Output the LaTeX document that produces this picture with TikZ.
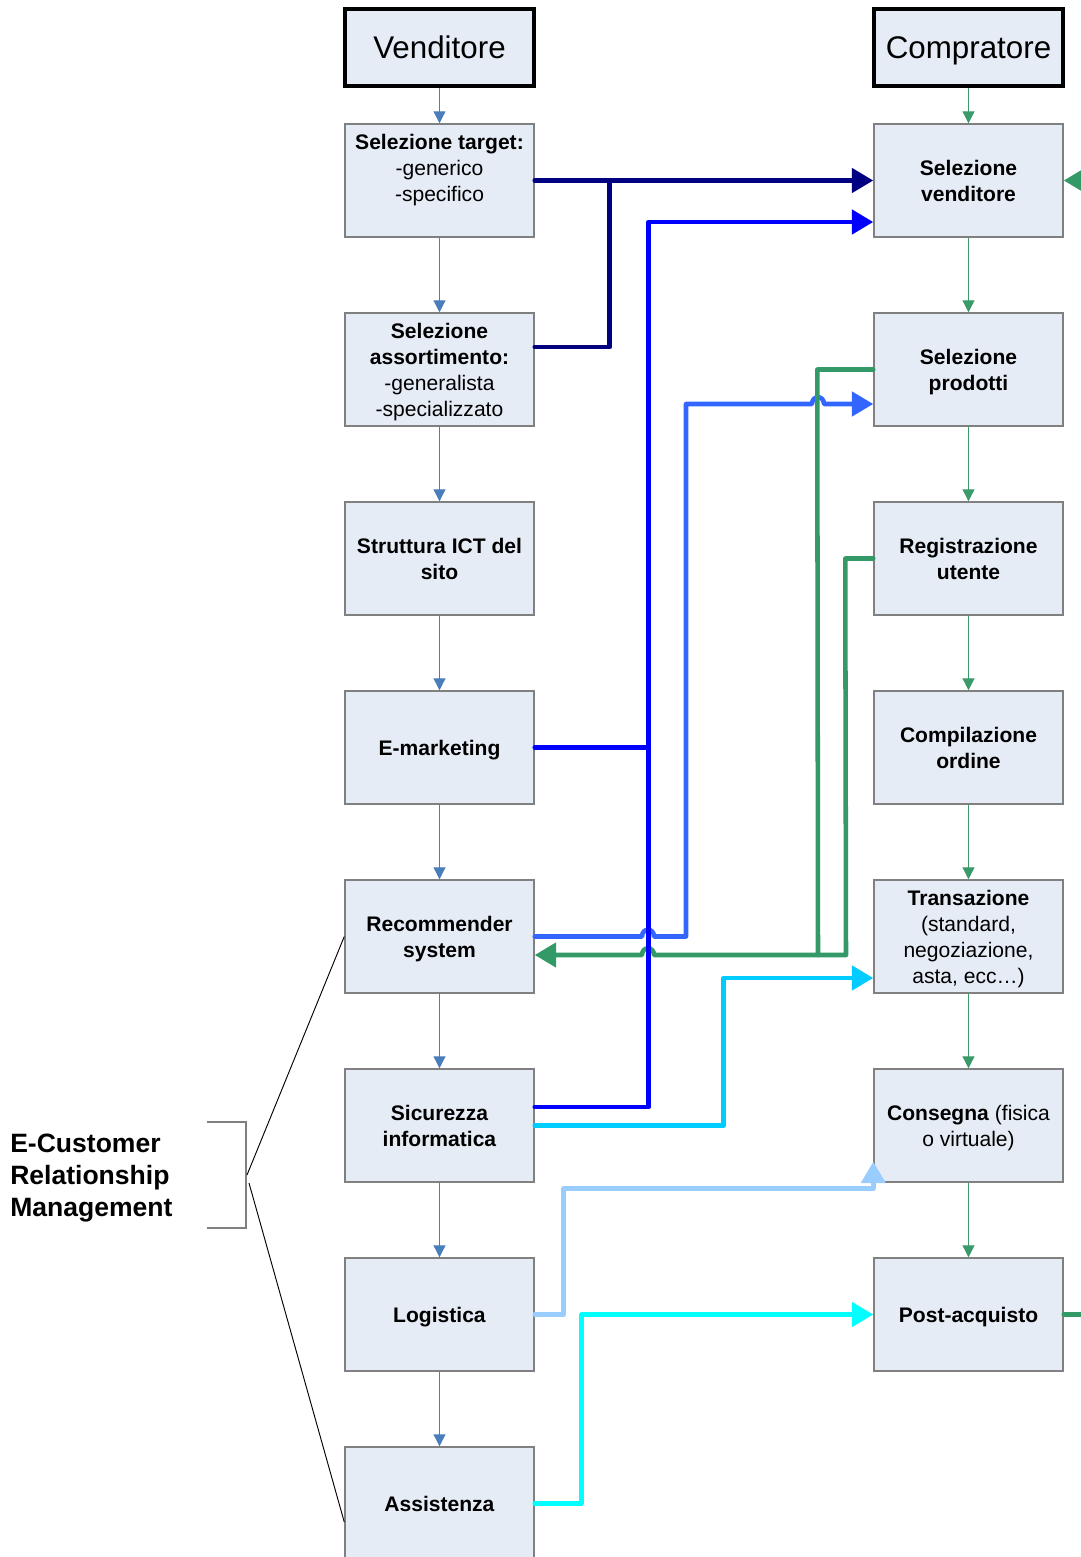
\documentclass[tikz,border=0pt]{standalone}
\usepackage{fontspec}
\setmainfont{Liberation Sans}
\usetikzlibrary{arrows.meta,calc}

\definecolor{boxfill}{RGB}{230,236,246}
\definecolor{boxline}{RGB}{128,128,128}
\definecolor{flowleft}{RGB}{74,126,187}
\definecolor{flowright}{RGB}{58,154,106}
\definecolor{cnavy}{RGB}{0,0,128}
\definecolor{cblue}{RGB}{0,0,255}
\definecolor{croyal}{RGB}{51,102,255}
\definecolor{cgreen}{RGB}{51,153,102}
\definecolor{ccyan}{RGB}{0,204,255}
\definecolor{clight}{RGB}{153,204,255}
\definecolor{caqua}{RGB}{0,255,255}

\begin{document}
\begin{tikzpicture}[x=0.75pt,y=-0.75pt,
  txt/.style={font=\fontsize{15.8}{19.5}\selectfont},
  stagebox/.style={txt,draw=boxline,fill=boxfill,line width=1.1pt,
    minimum width=141.75pt,minimum height=84.75pt,inner sep=0pt,align=center,
    text depth=0pt},
  headbox/.style={draw=black,fill=boxfill,line width=3.4pt,
    minimum width=141.75pt,minimum height=57.75pt,inner sep=0pt,
    text depth=0pt,font=\fontsize{23.5}{28}\selectfont},
  thinL/.style={draw=flowleft,line width=0.9pt,-{Triangle[length=9pt,width=9pt]}},
  thinR/.style={draw=flowright,line width=0.9pt,-{Triangle[length=9pt,width=9pt]}},
  conn/.style={line width=3.4pt,line cap=round,line join=round},
  tip/.style={-{Triangle[length=16pt,width=18pt]}},
]
\useasboundingbox (0,0) rectangle (1081,1557);
\clip (0,0) rectangle (1081,1557);

% column headers
\node[headbox] (vend) at (439.5,47.5) {Venditore};
\node[headbox] (comp) at (968.5,47.5) {Compratore};

% seller column
\node[stagebox] (tgt) at (439.5,180.5) {\textbf{Selezione target:}\\-generico\\-specifico\\\mbox{}};
\node[stagebox] (ass) at (439.5,369.5) {\textbf{Selezione}\\\textbf{assortimento:}\\-generalista\\-specializzato};
\node[stagebox] (ict) at (439.5,558.5) {\textbf{Struttura ICT del}\\\textbf{sito}};
\node[stagebox] (emk) at (439.5,747.5) {\textbf{E-marketing}};
\node[stagebox] (rec) at (439.5,936.5) {\textbf{Recommender}\\\textbf{system}};
\node[stagebox] (sic) at (439.5,1125.5) {\textbf{Sicurezza}\\\textbf{informatica}};
\node[stagebox] (log) at (439.5,1314.5) {\textbf{Logistica}};
\node[stagebox] (ast) at (439.5,1503.5) {\textbf{Assistenza}};

% buyer column
\node[stagebox] (selv) at (968.5,180.5) {\textbf{Selezione}\\\textbf{venditore}};
\node[stagebox] (selp) at (968.5,369.5) {\textbf{Selezione}\\\textbf{prodotti}};
\node[stagebox] (reg) at (968.5,558.5) {\textbf{Registrazione}\\\textbf{utente}};
\node[stagebox] (ord) at (968.5,747.5) {\textbf{Compilazione}\\\textbf{ordine}};
\node[stagebox] (tra) at (968.5,936.5) {\textbf{Transazione}\\(standard,\\negoziazione,\\asta, ecc…)};
\node[stagebox] (cons) at (968.5,1125.5) {\textbf{Consegna} (fisica\\o virtuale)};
\node[stagebox] (post) at (968.5,1314.5) {\textbf{Post-acquisto}};

% sequential flow inside each column
\draw[thinL] (vend.south) -- (tgt.north);
\foreach \a/\b in {tgt/ass,ass/ict,ict/emk,emk/rec,rec/sic,sic/log,log/ast}
  \draw[thinL] (\a.south) -- (\b.north);
\draw[thinR] (comp.south) -- (selv.north);
\foreach \a/\b in {selv/selp,selp/reg,reg/ord,ord/tra,tra/cons,cons/post}
  \draw[thinR] (\a.south) -- (\b.north);

% recommender system -> product selection (hops over two lines)
\draw[conn,croyal,tip] (rec.east) -- (642,936.5)
  .. controls (642,927.5) and (654,927.5) .. (654,936.5)
  -- (686,936.5) -- (686,404) -- (812,404)
  .. controls (812,395) and (824,395) .. (824,404)
  -- ($(selp.west)+(0,34.5)$);

% product selection / registration feed back to recommender system
\draw[conn,cgreen] (reg.west) -- ++(-28,0) -- (846,955) -- (818,955);
\draw[conn,cgreen,tip] (selp.west) -- ++(-56,0) -- (818,955) -- (654,955)
  .. controls (654,946) and (642,946) .. (642,955)
  -- ($(rec.east)+(0,18.5)$);

% target and assortment -> seller selection
\draw[conn,cnavy,tip] (tgt.east) -- (selv.west);
\draw[conn,cnavy] ($(ass.east)+(0,-22.5)$) -- ++(75,0) -- ($(tgt.east)+(75,0)$);

% e-marketing and security -> seller selection
\draw[conn,cblue,tip] (emk.east) -- ++(114,0) |- ($(selv.west)+(0,41.5)$);
\draw[conn,cblue] ($(sic.east)+(0,-18.5)$) -- ++(114,0) -- ($(emk.east)+(114,0)$);

% security -> transaction
\draw[conn,ccyan,tip] (sic.east) -- ++(189,0) |- ($(tra.west)+(0,41.5)$);

% logistics -> delivery
\draw[conn,clight,tip] (log.east) -- ++(29,0) |- ($(cons.south west)+(0,6)$)
  -- ($(cons.south west)+(0,-21)$);

% support -> after-sales
\draw[conn,caqua,tip] (ast.east) -- ++(47,0) |- (post.west);

% after-sales loops back to seller selection
\draw[conn,cgreen,tip] (post.east) -- (1120,1314.5) -- (1120,180.5) -- (selv.east);

% e-CRM bracket
\node[font=\fontsize{19.9}{24}\selectfont\bfseries,align=left,inner sep=0pt,anchor=west,
  text depth=0pt] (crm) at (10,1175) {E-Customer\\Relationship\\Management};
\coordinate (bt) at (207,1122);
\coordinate (bb) at (207,1228);
\draw[boxline,line width=1.1pt] (bt) -- ++(39,0) -- ($(bb)+(39,0)$) -- (bb);
\draw[black,line width=0.7pt] ($(bt)+(40,53)$) -- (rec.west);
\draw[black,line width=0.7pt] ($(bt)+(42,61)$) -- ($(ast.west)+(0,18.5)$);
\end{tikzpicture}
\end{document}
